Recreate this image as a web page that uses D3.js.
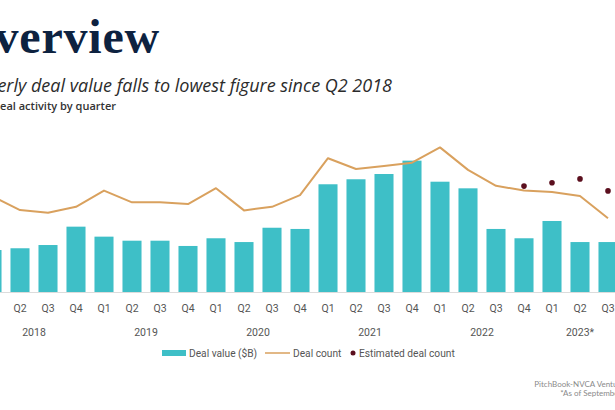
<!DOCTYPE html>
<html>
<head>
<meta charset="utf-8">
<script src="https://cdn.jsdelivr.net/npm/d3@7"></script>
<style>
  html, body { margin: 0; padding: 0; background: #fff; }
  svg { display: block; }
</style>
</head>
<body>
<svg id="chart" width="615" height="410"></svg>
<script>
// ---- Data ----
const quarters = ["Q1","Q2","Q3","Q4","Q1","Q2","Q3","Q4","Q1","Q2","Q3","Q4",
                  "Q1","Q2","Q3","Q4","Q1","Q2","Q3","Q4","Q1","Q2","Q3"];
const years = ["2018","2019","2020","2021","2022","2023*"];
const quarterYear = [0,0,0,0,1,1,1,1,2,2,2,2,3,3,3,3,4,4,4,4,5,5,5];
const dealValue = [31.1,32.4,34.8,48.4,41.0,38.0,38.0,34.1,39.8,37.0,47.6,46.7,
                   79.8,83.5,87.4,97.3,81.7,76.8,46.7,39.8,52.6,37.0,37.0];
const dealCount = [3200,2730,2640,2840,3380,2990,2990,2930,3460,2720,2840,3230,
                   4460,4100,4200,4310,4820,4070,3540,3380,3330,3200,2460];
const estimatedCount = [null,null,null,null,null,null,null,null,null,null,null,null,
                        null,null,null,null,null,null,null,3530,3640,3770,3370];
const legendLabels = ["Deal value ($B)","Deal count","Estimated deal count"];

// ---- Layout ----
const svg = d3.select("#chart");
const baseY = 292;
const keys = d3.range(quarters.length);

const x = d3.scaleBand().domain(keys).range([-22, 622]).paddingInner(0.32).paddingOuter(0.16);
const yVal = d3.scaleLinear().domain([0, 100]).range([baseY, baseY - 135]);
const yCnt = d3.scaleLinear().domain([0, 5000]).range([baseY, baseY - 150]);

const teal = "#3ebfc7", orange = "#d9a15e", maroon = "#5b0f1e";
const sans = "'Roboto','Open Sans',sans-serif";

// Titles
svg.append("text").attr("x", 160).attr("y", 53).attr("text-anchor", "end")
  .attr("font-family", "'Liberation Serif',serif").attr("font-weight", "bold")
  .attr("font-size", 48).attr("letter-spacing", 0.8).attr("fill", "#0d2240").text("Overview");
svg.append("text").attr("x", 392).attr("y", 92).attr("text-anchor", "end")
  .attr("font-family", "'Open Sans', Lato, sans-serif").attr("font-style", "italic")
  .attr("font-size", 18).attr("fill", "#2b2b2b")
  .text("Quarterly deal value falls to lowest figure since Q2 2018");
svg.append("text").attr("x", 116).attr("y", 110).attr("text-anchor", "end")
  .attr("font-family", "'Open Sans', Lato, sans-serif").attr("font-weight", 600)
  .attr("font-size", 11).attr("fill", "#333")
  .text("US VC deal activity by quarter");

// Bars
svg.append("g").selectAll("rect").data(keys).join("rect")
  .attr("x", i => x(i)).attr("width", x.bandwidth())
  .attr("y", i => yVal(dealValue[i])).attr("height", i => baseY - yVal(dealValue[i]))
  .attr("fill", teal);

// Baseline
svg.append("line").attr("x1", 0).attr("x2", 615).attr("y1", baseY + 0.5).attr("y2", baseY + 0.5)
  .attr("stroke", "#dcdcdc").attr("stroke-width", 1);

// Deal count line
const cx = i => x(i) + x.bandwidth() / 2;
svg.append("path").datum(keys)
  .attr("d", d3.line().x(cx).y(i => yCnt(dealCount[i])))
  .attr("fill", "none").attr("stroke", orange).attr("stroke-width", 2)
  .attr("stroke-linejoin", "round");

// Estimated dots
svg.append("g").selectAll("circle").data(keys.filter(i => estimatedCount[i] != null)).join("circle")
  .attr("cx", cx).attr("cy", i => yCnt(estimatedCount[i])).attr("r", 2.8).attr("fill", maroon);

// Quarter labels
svg.append("g").selectAll("text").data(keys).join("text")
  .attr("x", cx).attr("y", 312).attr("text-anchor", "middle")
  .attr("font-family", sans).attr("font-size", 10.5).attr("fill", "#555")
  .text(i => quarters[i]);

// Year labels
svg.append("g").selectAll("text").data(years).join("text")
  .attr("x", (d, yi) => d3.mean(keys.filter(i => quarterYear[i] === yi), cx))
  .attr("y", 336).attr("text-anchor", "middle")
  .attr("font-family", sans).attr("font-size", 10.5).attr("fill", "#555")
  .text(d => d);

// Legend
const lg = svg.append("g").attr("font-family", sans).attr("font-size", 10.2).attr("fill", "#555");
lg.append("rect").attr("x", 162).attr("y", 350).attr("width", 24).attr("height", 6).attr("fill", teal);
lg.append("text").attr("x", 189).attr("y", 357).text(legendLabels[0]);
lg.append("line").attr("x1", 265).attr("x2", 290).attr("y1", 353).attr("y2", 353)
  .attr("stroke", orange).attr("stroke-width", 1.5);
lg.append("text").attr("x", 293).attr("y", 357).text(legendLabels[1]);
lg.append("circle").attr("cx", 353).attr("cy", 353).attr("r", 2.5).attr("fill", maroon);
lg.append("text").attr("x", 359).attr("y", 357).text(legendLabels[2]);

// Source
const src = svg.append("g").attr("font-family", "Lato, 'Open Sans', sans-serif").attr("font-size", 8)
  .attr("fill", "#8a8a8a").attr("text-anchor", "end");
src.append("text").attr("x", 655).attr("y", 387).text("PitchBook-NVCA Venture Monitor");
src.append("text").attr("x", 655).attr("y", 396).text("*As of September 30, 2023");
</script>
</body>
</html>
